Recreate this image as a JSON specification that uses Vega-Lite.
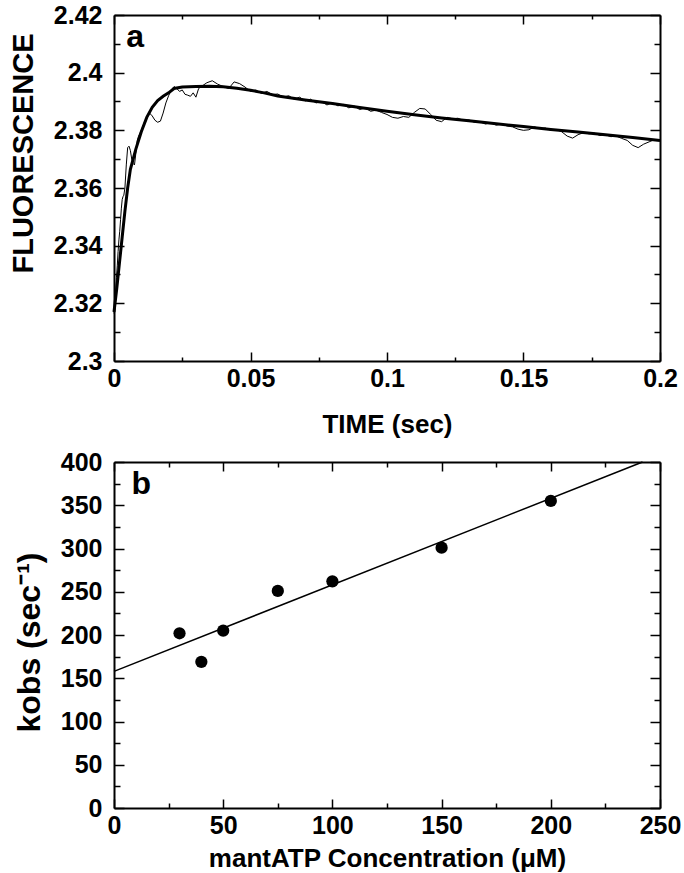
{
  "$schema": "https://vega.github.io/schema/vega-lite/v6.json",
  "background": "white",
  "padding": {"left": 8, "top": 3, "right": 5, "bottom": 3},
  "bounds": "flush",
  "spacing": 101,
  "config": {
    "view": {"stroke": null},
    "font": "Liberation Sans",
    "axis": {
      "grid": false,
      "domainColor": "black",
      "domainWidth": 2,
      "ticks": true,
      "tickColor": "black",
      "tickWidth": 1.5,
      "labelFont": "Liberation Sans",
      "labelFontWeight": "bold",
      "labelFontSize": 25,
      "labelColor": "black",
      "labelFlush": false,
      "labelOverlap": false,
      "titleFont": "Liberation Sans",
      "titleFontWeight": "bold",
      "titleFontSize": 26,
      "titleColor": "black"
    }
  },
  "datasets": {
    "trace": [
      {"t": 0, "f": 2.3165}, {"t": 0.0003, "f": 2.318}, {"t": 0.0006, "f": 2.324}, {"t": 0.0009, "f": 2.329},
      {"t": 0.0012, "f": 2.333}, {"t": 0.0015, "f": 2.338}, {"t": 0.0018, "f": 2.342}, {"t": 0.0021, "f": 2.345},
      {"t": 0.0024, "f": 2.349}, {"t": 0.0027, "f": 2.353}, {"t": 0.003, "f": 2.356}, {"t": 0.0033, "f": 2.357},
      {"t": 0.0036, "f": 2.3575}, {"t": 0.004, "f": 2.36}, {"t": 0.0045, "f": 2.368}, {"t": 0.005, "f": 2.374},
      {"t": 0.0055, "f": 2.3745}, {"t": 0.006, "f": 2.373}, {"t": 0.0065, "f": 2.37}, {"t": 0.007, "f": 2.3685},
      {"t": 0.0075, "f": 2.368}, {"t": 0.008, "f": 2.372}, {"t": 0.0085, "f": 2.3765}, {"t": 0.009, "f": 2.378},
      {"t": 0.01, "f": 2.38}, {"t": 0.011, "f": 2.3825}, {"t": 0.012, "f": 2.3845}, {"t": 0.013, "f": 2.386},
      {"t": 0.014, "f": 2.385}, {"t": 0.015, "f": 2.3835}, {"t": 0.016, "f": 2.3828}, {"t": 0.017, "f": 2.3832},
      {"t": 0.018, "f": 2.386}, {"t": 0.019, "f": 2.3895}, {"t": 0.02, "f": 2.392}, {"t": 0.021, "f": 2.394},
      {"t": 0.022, "f": 2.3952}, {"t": 0.023, "f": 2.3945}, {"t": 0.024, "f": 2.3935}, {"t": 0.025, "f": 2.394},
      {"t": 0.026, "f": 2.3925}, {"t": 0.027, "f": 2.3922}, {"t": 0.028, "f": 2.3918}, {"t": 0.029, "f": 2.393},
      {"t": 0.03, "f": 2.3915}, {"t": 0.031, "f": 2.3945}, {"t": 0.032, "f": 2.3952}, {"t": 0.034, "f": 2.3965},
      {"t": 0.036, "f": 2.3972}, {"t": 0.038, "f": 2.396}, {"t": 0.04, "f": 2.3952}, {"t": 0.042, "f": 2.3945},
      {"t": 0.044, "f": 2.3968}, {"t": 0.046, "f": 2.3962}, {"t": 0.048, "f": 2.395}, {"t": 0.05, "f": 2.3935},
      {"t": 0.052, "f": 2.394}, {"t": 0.054, "f": 2.3928}, {"t": 0.056, "f": 2.3935}, {"t": 0.058, "f": 2.3924},
      {"t": 0.06, "f": 2.3926}, {"t": 0.062, "f": 2.3915}, {"t": 0.064, "f": 2.392}, {"t": 0.066, "f": 2.3908},
      {"t": 0.068, "f": 2.3915}, {"t": 0.07, "f": 2.3902}, {"t": 0.072, "f": 2.3908}, {"t": 0.074, "f": 2.3895},
      {"t": 0.076, "f": 2.39}, {"t": 0.078, "f": 2.3888}, {"t": 0.08, "f": 2.3896}, {"t": 0.082, "f": 2.3885},
      {"t": 0.084, "f": 2.389}, {"t": 0.086, "f": 2.3878}, {"t": 0.088, "f": 2.3884}, {"t": 0.09, "f": 2.3872},
      {"t": 0.092, "f": 2.3878}, {"t": 0.094, "f": 2.3866}, {"t": 0.096, "f": 2.387}, {"t": 0.098, "f": 2.3862},
      {"t": 0.1, "f": 2.3855}, {"t": 0.102, "f": 2.3845}, {"t": 0.104, "f": 2.3842}, {"t": 0.106, "f": 2.3848},
      {"t": 0.108, "f": 2.3845}, {"t": 0.11, "f": 2.3862}, {"t": 0.112, "f": 2.3876}, {"t": 0.114, "f": 2.3874},
      {"t": 0.116, "f": 2.3855}, {"t": 0.118, "f": 2.3835}, {"t": 0.12, "f": 2.383}, {"t": 0.122, "f": 2.3845},
      {"t": 0.124, "f": 2.384}, {"t": 0.126, "f": 2.3842}, {"t": 0.128, "f": 2.3834}, {"t": 0.13, "f": 2.3836},
      {"t": 0.132, "f": 2.3828}, {"t": 0.134, "f": 2.383}, {"t": 0.136, "f": 2.3822}, {"t": 0.138, "f": 2.3826},
      {"t": 0.14, "f": 2.3818}, {"t": 0.142, "f": 2.3822}, {"t": 0.144, "f": 2.3815}, {"t": 0.146, "f": 2.3812},
      {"t": 0.148, "f": 2.3804}, {"t": 0.15, "f": 2.38}, {"t": 0.152, "f": 2.3802}, {"t": 0.154, "f": 2.3812},
      {"t": 0.156, "f": 2.3806}, {"t": 0.158, "f": 2.3808}, {"t": 0.16, "f": 2.38}, {"t": 0.162, "f": 2.3803},
      {"t": 0.164, "f": 2.3795}, {"t": 0.166, "f": 2.378}, {"t": 0.168, "f": 2.3773}, {"t": 0.17, "f": 2.3785},
      {"t": 0.172, "f": 2.3792}, {"t": 0.174, "f": 2.3788}, {"t": 0.176, "f": 2.379}, {"t": 0.178, "f": 2.3782},
      {"t": 0.18, "f": 2.3785}, {"t": 0.182, "f": 2.3778}, {"t": 0.184, "f": 2.378}, {"t": 0.186, "f": 2.3772},
      {"t": 0.188, "f": 2.3765}, {"t": 0.19, "f": 2.3748}, {"t": 0.192, "f": 2.374}, {"t": 0.194, "f": 2.3752},
      {"t": 0.196, "f": 2.376}, {"t": 0.198, "f": 2.3768}, {"t": 0.2, "f": 2.3764}
    ],
    "fit": [
      {"t": 0, "f": 2.317}, {"t": 0.001, "f": 2.325}, {"t": 0.002, "f": 2.334}, {"t": 0.003, "f": 2.343},
      {"t": 0.004, "f": 2.352}, {"t": 0.005, "f": 2.36}, {"t": 0.006, "f": 2.3665}, {"t": 0.008, "f": 2.3735},
      {"t": 0.01, "f": 2.3795}, {"t": 0.012, "f": 2.3845}, {"t": 0.014, "f": 2.388}, {"t": 0.016, "f": 2.3903},
      {"t": 0.018, "f": 2.3918}, {"t": 0.02, "f": 2.393}, {"t": 0.022, "f": 2.3945}, {"t": 0.025, "f": 2.395},
      {"t": 0.03, "f": 2.3952}, {"t": 0.035, "f": 2.3953}, {"t": 0.04, "f": 2.3951}, {"t": 0.045, "f": 2.3946},
      {"t": 0.05, "f": 2.3939}, {"t": 0.055, "f": 2.393}, {"t": 0.06, "f": 2.3919}, {"t": 0.07, "f": 2.3905},
      {"t": 0.08, "f": 2.3893}, {"t": 0.09, "f": 2.3879}, {"t": 0.1, "f": 2.3866}, {"t": 0.11, "f": 2.3854},
      {"t": 0.12, "f": 2.3843}, {"t": 0.13, "f": 2.3833}, {"t": 0.14, "f": 2.3823}, {"t": 0.15, "f": 2.3813},
      {"t": 0.16, "f": 2.3803}, {"t": 0.17, "f": 2.3794}, {"t": 0.18, "f": 2.3785}, {"t": 0.19, "f": 2.3775},
      {"t": 0.2, "f": 2.3765}
    ],
    "points": [
      {"conc": 30, "kobs": 202}, {"conc": 40, "kobs": 169}, {"conc": 50, "kobs": 205},
      {"conc": 75, "kobs": 251}, {"conc": 100, "kobs": 262}, {"conc": 150, "kobs": 301},
      {"conc": 200, "kobs": 355}
    ],
    "linefit": [
      {"conc": 0, "kobs": 158}, {"conc": 242, "kobs": 400}
    ],
    "labA": [{"label": "a"}],
    "labB": [{"label": "b"}]
  },
  "vconcat": [
    {
      "width": 546,
      "height": 346,
      "resolve": {"axis": {"x": "independent", "y": "independent"}},
      "layer": [
        {
          "data": {"name": "trace"},
          "mark": {"type": "line", "color": "black", "strokeWidth": 1},
          "encoding": {
            "x": {"field": "t", "type": "quantitative", "scale": {"domain": [0, 0.2], "nice": false},
              "axis": {"orient": "bottom", "title": "TIME (sec)", "values": [0, 0.025, 0.05, 0.075, 0.1, 0.125, 0.15, 0.175, 0.2],
                "format": "~g", "labelExpr": "round(datum.value*400) % 20 === 0 ? datum.label : ''",
                "tickSize": {"expr": "round(datum.value*400) % 20 === 0 ? -9 : -4"}, "labelPadding": 14, "titlePadding": 15}},
            "y": {"field": "f", "type": "quantitative", "scale": {"domain": [2.3, 2.42], "nice": false, "zero": false},
              "axis": {"orient": "left", "title": "FLUORESCENCE", "titleFontSize": 29, "titleX": -76, "titleY": 138,
                "values": [2.3, 2.31, 2.32, 2.33, 2.34, 2.35, 2.36, 2.37, 2.38, 2.39, 2.4, 2.41, 2.42],
                "format": "~g", "labelExpr": "round(datum.value*100) % 2 === 0 ? datum.label : ''",
                "tickSize": {"expr": "round(datum.value*100) % 2 === 0 ? -10 : -6"}, "labelPadding": 22}}
          }
        },
        {
          "data": {"name": "fit"},
          "mark": {"type": "line", "color": "black", "strokeWidth": 3},
          "encoding": {
            "x": {"field": "t", "type": "quantitative", "scale": {"domain": [0, 0.2], "nice": false},
              "axis": {"orient": "top", "title": null, "labels": false, "values": [0, 0.025, 0.05, 0.075, 0.1, 0.125, 0.15, 0.175, 0.2],
                "tickSize": {"expr": "round(datum.value*400) % 20 === 0 ? -9 : -4"}}},
            "y": {"field": "f", "type": "quantitative", "scale": {"domain": [2.3, 2.42], "nice": false, "zero": false},
              "axis": {"orient": "right", "title": null, "labels": false,
                "values": [2.3, 2.31, 2.32, 2.33, 2.34, 2.35, 2.36, 2.37, 2.38, 2.39, 2.4, 2.41, 2.42],
                "tickSize": {"expr": "round(datum.value*100) % 2 === 0 ? -10 : -6"}}}
          }
        },
        {
          "data": {"name": "labA"},
          "mark": {"type": "text", "align": "left", "baseline": "alphabetic", "font": "Liberation Sans", "fontWeight": "bold", "fontSize": 32, "color": "black"},
          "encoding": {
            "x": {"datum": 0.0045, "type": "quantitative", "axis": null},
            "y": {"datum": 2.409, "type": "quantitative", "axis": null},
            "text": {"field": "label"}
          }
        }
      ]
    },
    {
      "width": 546,
      "height": 346,
      "resolve": {"axis": {"x": "independent", "y": "independent"}},
      "layer": [
        {
          "data": {"name": "points"},
          "mark": {"type": "circle", "color": "black", "opacity": 1, "size": 150},
          "encoding": {
            "x": {"field": "conc", "type": "quantitative", "scale": {"domain": [0, 250], "nice": false},
              "axis": {"orient": "bottom", "title": "mantATP Concentration (μM)", "values": [0, 25, 50, 75, 100, 125, 150, 175, 200, 225, 250],
                "format": "d", "labelExpr": "datum.value % 50 === 0 ? datum.label : ''",
                "tickSize": {"expr": "datum.value % 50 === 0 ? -9 : -5"}, "labelPadding": 14, "titlePadding": 3}},
            "y": {"field": "kobs", "type": "quantitative", "scale": {"domain": [0, 400], "nice": false},
              "axis": {"orient": "left", "title": "kobs (sec⁻¹)", "titleFontSize": 32, "titleX": -68, "titleY": 180,
                "values": [0, 25, 50, 75, 100, 125, 150, 175, 200, 225, 250, 275, 300, 325, 350, 375, 400],
                "format": "d", "labelExpr": "datum.value % 50 === 0 ? datum.label : ''",
                "tickSize": {"expr": "datum.value % 50 === 0 ? -10 : -6"}, "labelPadding": 22}}
          }
        },
        {
          "data": {"name": "linefit"},
          "mark": {"type": "line", "color": "black", "strokeWidth": 1.5},
          "encoding": {
            "x": {"field": "conc", "type": "quantitative", "scale": {"domain": [0, 250], "nice": false},
              "axis": {"orient": "top", "title": null, "labels": false, "values": [0, 25, 50, 75, 100, 125, 150, 175, 200, 225, 250],
                "tickSize": {"expr": "datum.value % 50 === 0 ? -9 : -5"}}},
            "y": {"field": "kobs", "type": "quantitative", "scale": {"domain": [0, 400], "nice": false},
              "axis": {"orient": "right", "title": null, "labels": false,
                "values": [0, 25, 50, 75, 100, 125, 150, 175, 200, 225, 250, 275, 300, 325, 350, 375, 400],
                "tickSize": {"expr": "datum.value % 50 === 0 ? -10 : -6"}}}
          }
        },
        {
          "data": {"name": "labB"},
          "mark": {"type": "text", "align": "left", "baseline": "alphabetic", "font": "Liberation Sans", "fontWeight": "bold", "fontSize": 32, "color": "black"},
          "encoding": {
            "x": {"datum": 8, "type": "quantitative", "axis": null},
            "y": {"datum": 363, "type": "quantitative", "axis": null},
            "text": {"field": "label"}
          }
        }
      ]
    }
  ]
}
